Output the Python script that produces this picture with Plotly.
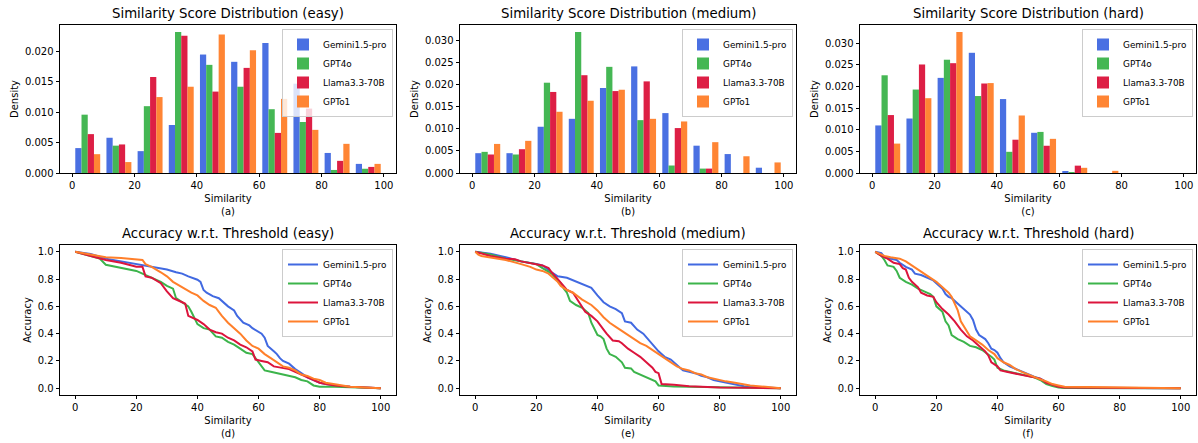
import plotly.graph_objects as go
from plotly.subplots import make_subplots

models = ["Gemini1.5-pro", "GPT4o", "Llama3.3-70B", "GPTo1"]
colors = ["#4169E1", "#3cb44b", "#DC143C", "#FF7F2A"]
bin_centers = [5, 15, 25, 35, 45, 55, 65, 75, 85, 95]
x_ticks = [0, 20, 40, 60, 80, 100]

# Histogram densities (per bin of width 10)
easy_gemini = [0.0041, 0.0058, 0.0036, 0.0079, 0.0195, 0.0183, 0.0214, 0.0147, 0.0033, 0.0015]
easy_gpt4o = [0.0096, 0.0045, 0.0110, 0.0232, 0.0178, 0.0142, 0.0105, 0.0084, 0.0005, 0.0007]
easy_llama = [0.0064, 0.0047, 0.0158, 0.0226, 0.0134, 0.0173, 0.0066, 0.0106, 0.0020, 0.0010]
easy_gpto1 = [0.0031, 0.0018, 0.0125, 0.0142, 0.0228, 0.0202, 0.0122, 0.0071, 0.0048, 0.0015]

medium_gemini = [0.0045, 0.0045, 0.0105, 0.0123, 0.0193, 0.0242, 0.0136, 0.0062, 0.0043, 0.0012]
medium_gpt4o = [0.0048, 0.0042, 0.0205, 0.0320, 0.0241, 0.0120, 0.0017, 0.0010, 0.0, 0.0]
medium_llama = [0.0042, 0.0054, 0.0184, 0.0222, 0.0186, 0.0208, 0.0102, 0.0010, 0.0, 0.0]
medium_gpto1 = [0.0066, 0.0073, 0.0139, 0.0164, 0.0189, 0.0123, 0.0117, 0.0070, 0.0038, 0.0024]

hard_gemini = [0.0110, 0.0126, 0.0220, 0.0278, 0.0171, 0.0093, 0.0004, 0.0, 0.0, 0.0]
hard_gpt4o = [0.0226, 0.0193, 0.0262, 0.0178, 0.0049, 0.0095, 0.0002, 0.0, 0.0, 0.0]
hard_llama = [0.0134, 0.0251, 0.0254, 0.0207, 0.0077, 0.0063, 0.0017, 0.0, 0.0, 0.0]
hard_gpto1 = [0.0068, 0.0173, 0.0326, 0.0208, 0.0133, 0.0079, 0.0012, 0.0005, 0.0, 0.0]

# Accuracy vs threshold curves
easy_gemini_x = [0,5,10,15,20,25,30,33,35,37,40,41,42,43,45,47,48,50,52,53,55,57,58,60,61,62,63,65,66,67,68,70,72,74,76,78,80,82,85,90,95,100]
easy_gemini_y = [1.0,0.985,0.95,0.93,0.905,0.89,0.87,0.85,0.84,0.82,0.795,0.78,0.72,0.70,0.675,0.66,0.64,0.60,0.57,0.53,0.48,0.46,0.44,0.41,0.40,0.37,0.31,0.27,0.25,0.22,0.20,0.18,0.14,0.11,0.08,0.06,0.04,0.03,0.02,0.01,0.005,0.0]
easy_gpt4o_x = [0,5,8,10,15,20,22,25,28,30,32,33,35,37,38,40,42,44,46,48,50,52,54,56,58,59,60,62,64,66,68,70,72,74,76,78,80,85,90,100]
easy_gpt4o_y = [1.0,0.97,0.95,0.905,0.88,0.86,0.84,0.81,0.78,0.75,0.73,0.66,0.63,0.60,0.56,0.47,0.44,0.43,0.38,0.37,0.34,0.32,0.29,0.26,0.25,0.22,0.19,0.13,0.12,0.11,0.10,0.09,0.08,0.06,0.05,0.02,0.01,0.01,0.005,0.0]
easy_llama_x = [0,5,10,15,20,22,23,25,28,30,32,35,36,37,39,40,42,44,46,48,50,52,54,56,58,59,61,63,65,67,70,72,74,76,78,80,82,85,90,95,100]
easy_llama_y = [1.0,0.97,0.94,0.92,0.89,0.89,0.82,0.81,0.77,0.71,0.66,0.63,0.62,0.53,0.51,0.50,0.47,0.43,0.41,0.40,0.37,0.35,0.32,0.30,0.27,0.21,0.20,0.19,0.16,0.15,0.14,0.12,0.10,0.08,0.06,0.04,0.03,0.02,0.01,0.005,0.0]
easy_gpto1_x = [0,5,10,15,20,22,23,25,28,30,32,35,38,40,42,44,46,47,48,50,52,54,56,58,60,62,64,66,68,70,72,74,76,78,80,82,85,90,95,100]
easy_gpto1_y = [1.0,0.98,0.96,0.955,0.945,0.94,0.91,0.89,0.85,0.82,0.78,0.74,0.70,0.68,0.64,0.61,0.59,0.56,0.53,0.48,0.44,0.40,0.35,0.31,0.29,0.25,0.22,0.19,0.16,0.15,0.13,0.10,0.09,0.07,0.06,0.04,0.03,0.01,0.005,0.0]

medium_gemini_x = [0,5,10,15,20,22,25,27,30,32,35,37,38,40,42,44,46,48,49,51,53,55,57,58,60,62,64,66,68,70,72,74,76,78,80,82,84,86,88,90,95,100]
medium_gemini_y = [1.0,0.985,0.96,0.93,0.91,0.90,0.85,0.82,0.81,0.79,0.76,0.74,0.735,0.68,0.63,0.60,0.58,0.55,0.49,0.48,0.43,0.40,0.35,0.32,0.27,0.23,0.21,0.17,0.13,0.12,0.11,0.09,0.08,0.06,0.05,0.04,0.03,0.02,0.015,0.01,0.005,0.0]
medium_gpt4o_x = [0,5,10,15,20,22,25,27,28,29,30,31,33,35,37,38,40,41,42,43,44,46,48,49,51,52,54,56,58,59,60,62,65,70,80,90,100]
medium_gpt4o_y = [1.0,0.98,0.95,0.93,0.91,0.88,0.84,0.79,0.77,0.73,0.70,0.64,0.61,0.59,0.55,0.48,0.39,0.38,0.36,0.29,0.25,0.23,0.19,0.15,0.145,0.12,0.10,0.08,0.065,0.05,0.02,0.015,0.012,0.01,0.005,0.002,0.0]
medium_llama_x = [0,5,10,13,15,20,22,24,25,27,29,30,32,34,36,38,40,42,43,45,47,48,50,52,54,56,58,59,60,61,62,65,70,75,80,90,100]
medium_llama_y = [1.0,0.97,0.95,0.945,0.93,0.91,0.90,0.88,0.85,0.80,0.75,0.72,0.70,0.63,0.56,0.53,0.49,0.43,0.40,0.35,0.345,0.33,0.29,0.26,0.23,0.19,0.15,0.12,0.11,0.03,0.03,0.025,0.015,0.01,0.005,0.003,0.0]
medium_gpto1_x = [0,1,2,5,10,15,18,20,22,24,25,27,28,30,32,35,38,40,42,44,46,48,50,52,54,56,58,60,62,64,66,68,70,72,74,76,78,80,82,85,88,90,95,100]
medium_gpto1_y = [1.0,0.98,0.97,0.96,0.94,0.91,0.89,0.87,0.86,0.84,0.82,0.78,0.75,0.72,0.70,0.65,0.61,0.57,0.52,0.48,0.45,0.42,0.39,0.36,0.33,0.31,0.28,0.25,0.22,0.19,0.16,0.14,0.13,0.11,0.10,0.08,0.07,0.055,0.05,0.04,0.03,0.02,0.01,0.0]

hard_gemini_x = [0,2,3,5,7,8,10,12,13,15,17,19,20,22,23,24,25,27,29,31,32,33,34,36,37,38,39,40,41,42,44,46,48,50,52,54,55,56,58,60,62,65,70,100]
hard_gemini_y = [1.0,0.99,0.96,0.95,0.94,0.92,0.89,0.87,0.84,0.83,0.81,0.79,0.77,0.73,0.69,0.67,0.66,0.62,0.58,0.54,0.50,0.43,0.39,0.36,0.33,0.29,0.28,0.26,0.22,0.19,0.16,0.14,0.12,0.10,0.085,0.07,0.06,0.04,0.025,0.01,0.005,0.003,0.002,0.0]
hard_gpt4o_x = [0,2,3,4,6,7,8,10,12,14,16,18,19,20,22,23,24,25,27,29,31,33,35,37,38,39,40,42,44,46,48,50,52,54,56,58,60,62,100]
hard_gpt4o_y = [1.0,0.97,0.94,0.90,0.89,0.86,0.81,0.78,0.76,0.73,0.71,0.69,0.67,0.60,0.56,0.49,0.46,0.39,0.36,0.34,0.31,0.30,0.28,0.25,0.23,0.21,0.15,0.13,0.12,0.11,0.10,0.09,0.08,0.06,0.03,0.015,0.005,0.002,0.0]
hard_llama_x = [0,2,4,6,8,9,10,11,12,14,15,17,19,20,22,24,26,28,30,32,34,36,37,38,40,41,43,45,47,50,52,54,56,58,60,62,100]
hard_llama_y = [1.0,0.97,0.95,0.92,0.91,0.88,0.87,0.81,0.78,0.74,0.70,0.68,0.67,0.63,0.58,0.54,0.49,0.43,0.38,0.35,0.31,0.27,0.24,0.19,0.16,0.13,0.12,0.11,0.10,0.09,0.08,0.07,0.04,0.025,0.01,0.005,0.0]
hard_gpto1_x = [0,3,5,8,10,12,14,16,18,20,22,24,25,26,27,28,29,30,31,33,35,37,39,40,42,44,46,48,50,52,54,56,58,60,62,70,80,90,100]
hard_gpto1_y = [1.0,0.97,0.96,0.95,0.93,0.90,0.87,0.84,0.81,0.78,0.74,0.70,0.67,0.62,0.57,0.49,0.45,0.41,0.38,0.35,0.32,0.28,0.25,0.22,0.19,0.17,0.14,0.12,0.10,0.08,0.065,0.05,0.03,0.02,0.01,0.008,0.005,0.003,0.0]

levels = ["easy", "medium", "hard"]
panel_letters_top = ["(a)", "(b)", "(c)"]
panel_letters_bot = ["(d)", "(e)", "(f)"]
hist_data = [
    [easy_gemini, easy_gpt4o, easy_llama, easy_gpto1],
    [medium_gemini, medium_gpt4o, medium_llama, medium_gpto1],
    [hard_gemini, hard_gpt4o, hard_llama, hard_gpto1],
]
curve_data = [
    [(easy_gemini_x, easy_gemini_y), (easy_gpt4o_x, easy_gpt4o_y), (easy_llama_x, easy_llama_y), (easy_gpto1_x, easy_gpto1_y)],
    [(medium_gemini_x, medium_gemini_y), (medium_gpt4o_x, medium_gpt4o_y), (medium_llama_x, medium_llama_y), (medium_gpto1_x, medium_gpto1_y)],
    [(hard_gemini_x, hard_gemini_y), (hard_gpt4o_x, hard_gpt4o_y), (hard_llama_x, hard_llama_y), (hard_gpto1_x, hard_gpto1_y)],
]

W, H = 1198, 443
FONT = "DejaVu Sans"
fig = make_subplots(rows=2, cols=3)

col_px = [(60, 396), (460, 796), (860, 1196)]
top_px = (25, 173)
bot_px = (245, 395)

def xd(c):
    return [col_px[c][0] / W, col_px[c][1] / W]

def yd(r):
    a, b = r
    return [1 - b / H, 1 - a / H]

axis_common = dict(
    showline=True, mirror=True, linecolor="black", linewidth=0.8,
    ticks="outside", ticklen=3.5, tickwidth=0.8, tickcolor="black",
    showgrid=False, zeroline=False, automargin=False,
    tickfont=dict(family=FONT, size=10, color="black"),
)

annotations = []
for c, lvl in enumerate(levels):
    leg = "legend" if c == 0 else f"legend{c + 1}"
    for m, vals in enumerate(hist_data[c]):
        fig.add_trace(go.Bar(
            x=bin_centers, y=vals, name=models[m],
            marker=dict(color=colors[m], line=dict(width=0)),
            opacity=0.95, legend=leg,
        ), row=1, col=c + 1)
    ymax = max(max(v) for v in hist_data[c]) * 1.05
    fig.update_xaxes(domain=xd(c), range=[-3.9, 103.9], tickvals=x_ticks,
                     title=dict(text="Similarity<br>" + panel_letters_top[c],
                                font=dict(family=FONT, size=10, color="black"), standoff=4),
                     row=1, col=c + 1, **axis_common)
    fig.update_yaxes(domain=yd(top_px), range=[0, ymax], dtick=0.005, tickformat=".3f",
                     title=dict(text="Density", font=dict(family=FONT, size=10, color="black"), standoff=4),
                     row=1, col=c + 1, **axis_common)
    leg2 = f"legend{c + 4}"
    for m, (xs, ys) in enumerate(curve_data[c]):
        fig.add_trace(go.Scatter(
            x=xs, y=ys, name=models[m], mode="lines",
            line=dict(color=colors[m], width=2), legend=leg2,
        ), row=2, col=c + 1)
    fig.update_xaxes(domain=xd(c), range=[-5, 105], tickvals=x_ticks,
                     title=dict(text="Similarity<br>" + panel_letters_bot[c],
                                font=dict(family=FONT, size=10, color="black"), standoff=4),
                     row=2, col=c + 1, **axis_common)
    fig.update_yaxes(domain=yd(bot_px), range=[-0.05, 1.05], dtick=0.2, tickformat=".1f",
                     title=dict(text="Accuracy", font=dict(family=FONT, size=10, color="black"), standoff=4),
                     row=2, col=c + 1, **axis_common)

    cx = (col_px[c][0] + col_px[c][1]) / 2 / W
    annotations.append(dict(text=f"Similarity Score Distribution ({lvl})", x=cx, y=1 - top_px[0] / H,
                            xref="paper", yref="paper", xanchor="center", yanchor="bottom",
                            yshift=2, showarrow=False, font=dict(family=FONT, size=13.3, color="black")))
    annotations.append(dict(text=f"Accuracy w.r.t. Threshold ({lvl})", x=cx, y=1 - bot_px[0] / H,
                            xref="paper", yref="paper", xanchor="center", yanchor="bottom",
                            yshift=2, showarrow=False, font=dict(family=FONT, size=13.3, color="black")))

legend_style = dict(xanchor="right", yanchor="top", bgcolor="rgba(255,255,255,0.8)",
                    bordercolor="#cccccc", borderwidth=1, tracegroupgap=0,
                    font=dict(family=FONT, size=8.9, color="black"))
legends = {}
for c in range(3):
    xr = (col_px[c][1] - 3) / W
    key_top = "legend" if c == 0 else f"legend{c + 1}"
    legends[key_top] = dict(x=xr, y=1 - 29 / H, **legend_style)
    legends[f"legend{c + 4}"] = dict(x=xr, y=1 - 249 / H, **legend_style)

fig.update_layout(
    width=W, height=H, margin=dict(l=0, r=0, t=0, b=0),
    paper_bgcolor="white", plot_bgcolor="white",
    barmode="group", bargap=0.2, bargroupgap=0,
    annotations=annotations, showlegend=True,
    font=dict(family=FONT, size=10, color="black"),
    **legends,
)

fig.write_html(
    "out.html",
    config={"displayModeBar": False, "staticPlot": False},
    post_script="document.body.style.margin='0';document.body.style.overflow='hidden';",
)
